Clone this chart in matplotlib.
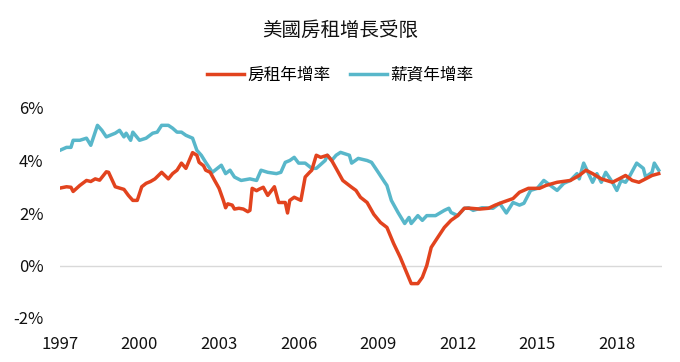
import matplotlib
matplotlib.use("Agg")
import matplotlib.pyplot as plt
import pandas as pd

plt.rcParams['font.family'] = ['Noto Sans CJK TC', 'DejaVu Sans']

# 房租年增率 (rent, YoY %)
rent_dates = [
    "1997-01", "1997-04", "1997-06", "1997-07", "1997-10", "1998-01", "1998-03", "1998-05",
    "1998-07", "1998-10", "1998-11", "1999-02", "1999-04", "1999-06", "1999-08", "1999-10",
    "1999-12", "2000-02", "2000-04", "2000-06", "2000-08", "2000-11", "2001-02", "2001-04",
    "2001-06", "2001-08", "2001-10", "2002-01", "2002-03", "2002-04", "2002-06", "2002-07",
    "2002-09", "2002-11", "2003-01", "2003-03", "2003-04", "2003-05", "2003-07", "2003-08",
    "2003-10", "2003-12", "2004-02", "2004-03", "2004-04", "2004-06", "2004-07", "2004-09",
    "2004-11", "2005-02", "2005-04", "2005-07", "2005-08", "2005-09", "2005-11", "2006-02",
    "2006-04", "2006-06", "2006-07", "2006-09", "2006-11", "2007-02", "2007-04", "2007-06",
    "2007-09", "2008-01", "2008-03", "2008-05", "2008-08", "2008-11", "2009-02", "2009-05",
    "2009-08", "2009-11", "2010-02", "2010-04", "2010-07", "2010-09", "2010-11", "2011-01",
    "2011-04", "2011-07", "2011-10", "2012-01", "2012-04", "2012-07", "2012-11", "2013-03",
    "2013-06", "2013-09", "2014-02", "2014-05", "2014-09", "2015-02", "2015-05", "2015-10",
    "2016-04", "2016-08", "2016-11", "2017-02", "2017-06", "2017-11", "2018-02", "2018-05",
    "2018-08", "2018-11", "2019-02", "2019-05", "2019-08",
]
rent = [
    2.95, 3.0, 2.98, 2.82, 3.05, 3.24, 3.2, 3.3,
    3.25, 3.57, 3.55, 3.0, 2.95, 2.9, 2.67, 2.48,
    2.48, 3.0, 3.13, 3.2, 3.3, 3.55, 3.3, 3.5,
    3.63, 3.9, 3.7, 4.3, 4.2, 3.93, 3.8, 3.63,
    3.55, 3.24, 2.94, 2.48, 2.2, 2.35, 2.3, 2.15,
    2.18, 2.15, 2.05, 2.1, 2.94, 2.85, 2.9, 2.98,
    2.67, 3.0, 2.4, 2.4, 2.0, 2.48, 2.6, 2.48,
    3.37, 3.55, 3.63, 4.2, 4.12, 4.2, 4.0, 3.7,
    3.24, 2.98, 2.86, 2.6, 2.4, 1.95, 1.64, 1.45,
    0.84, 0.31, -0.3, -0.69, -0.69, -0.45, 0.0, 0.69,
    1.07, 1.45, 1.72, 1.9, 2.18, 2.18, 2.15, 2.18,
    2.3, 2.4, 2.55, 2.79, 2.94, 2.94, 3.05, 3.17,
    3.24, 3.43, 3.63, 3.5, 3.3, 3.17, 3.3, 3.43,
    3.24, 3.17, 3.3, 3.43, 3.5,
]

# 薪資年增率 (wages, YoY %)
wage_dates = [
    "1997-01", "1997-04", "1997-06", "1997-07", "1997-10", "1998-01", "1998-03", "1998-06",
    "1998-08", "1998-10", "1999-02", "1999-04", "1999-06", "1999-07", "1999-09", "1999-10",
    "2000-01", "2000-04", "2000-07", "2000-09", "2000-11", "2001-02", "2001-04", "2001-06",
    "2001-08", "2001-10", "2002-01", "2002-03", "2002-05", "2002-07", "2002-10", "2003-02",
    "2003-04", "2003-06", "2003-08", "2003-11", "2004-03", "2004-06", "2004-08", "2004-11",
    "2005-03", "2005-05", "2005-07", "2005-09", "2005-11", "2006-01", "2006-04", "2006-07",
    "2006-09", "2007-01", "2007-02", "2007-04", "2007-06", "2007-08", "2007-12", "2008-01",
    "2008-04", "2008-08", "2008-10", "2009-01", "2009-04", "2009-05", "2009-07", "2009-10",
    "2010-01", "2010-03", "2010-04", "2010-07", "2010-09", "2010-11", "2011-03", "2011-07",
    "2011-09", "2011-10", "2012-01", "2012-04", "2012-06", "2012-08", "2012-12", "2013-05",
    "2013-08", "2013-11", "2014-02", "2014-05", "2014-07", "2014-10", "2015-01", "2015-04",
    "2015-07", "2015-10", "2016-01", "2016-04", "2016-07", "2016-08", "2016-10", "2017-02",
    "2017-04", "2017-06", "2017-08", "2017-11", "2018-01", "2018-03", "2018-05", "2018-07",
    "2018-10", "2019-01", "2019-02", "2019-05", "2019-06", "2019-08",
]
wage = [
    4.39, 4.5, 4.5, 4.77, 4.77, 4.85, 4.58, 5.34,
    5.15, 4.9, 5.04, 5.15, 4.9, 5.04, 4.77, 5.08,
    4.77, 4.85, 5.04, 5.08, 5.34, 5.34, 5.23, 5.08,
    5.08, 4.96, 4.85, 4.39, 4.2, 3.93, 3.55, 3.82,
    3.5, 3.63, 3.37, 3.24, 3.3, 3.24, 3.63, 3.55,
    3.5, 3.55, 3.93, 4.0, 4.12, 3.9, 3.9, 3.7,
    3.7, 4.0, 4.2, 4.0, 4.2, 4.31, 4.2, 3.9,
    4.08, 4.0, 3.93, 3.55, 3.17, 3.05, 2.48, 2.02,
    1.6, 1.83, 1.6, 1.9, 1.72, 1.9, 1.9, 2.1,
    2.18, 2.02, 1.9, 2.18, 2.2, 2.1, 2.2, 2.18,
    2.37, 2.0, 2.4, 2.3, 2.37, 2.86, 2.94, 3.24,
    3.05, 2.86, 3.13, 3.24, 3.5, 3.3, 3.9, 3.17,
    3.5, 3.17, 3.55, 3.17, 2.86, 3.24, 3.17, 3.43,
    3.9, 3.7, 3.37, 3.55, 3.9, 3.63,
]

tick_years = [1997, 2000, 2003, 2006, 2009, 2012, 2015, 2018]
y_ticks = [-2, 0, 2, 4, 6]

rent_x = pd.to_datetime(rent_dates)
wage_x = pd.to_datetime(wage_dates)

fig = plt.figure(figsize=(6.8, 3.62), dpi=100)
ax = fig.add_axes([60 / 680, 1 - 318 / 362, 602 / 680, 210 / 362])

ax.axhline(0, color='#d9d9d9', lw=1, zorder=1)
ax.plot(rent_x, rent, color='#e2431e', lw=2.5, label='房租年增率', zorder=3)
ax.plot(wage_x, wage, color='#58b7ca', lw=2.5, label='薪資年增率', zorder=2)

ax.set_ylim(-2, 6)
ax.set_yticks(y_ticks)
ax.set_yticklabels([f'{v}%' for v in y_ticks])
ax.set_xlim(pd.Timestamp('1997-01-01'), pd.Timestamp('2019-09-15'))
ax.set_xticks([pd.Timestamp(f'{y}-01-01') for y in tick_years])
ax.set_xticklabels([str(y) for y in tick_years])

for s in ax.spines.values():
    s.set_visible(False)
ax.tick_params(axis='both', length=0, labelsize=12, colors='#111111')
ax.tick_params(axis='y', pad=12)
ax.tick_params(axis='x', pad=13)

fig.text(0.5, 1 - 30 / 362, '美國房租增長受限', ha='center', va='center', fontsize=14,
         fontweight='medium', color='#111111')
fig.legend(loc='center', bbox_to_anchor=(0.5, 1 - 75 / 362), ncol=2, frameon=False,
           fontsize=12, handlelength=2.2, columnspacing=1.2, handletextpad=0.2)

fig.savefig('out.png', dpi=100)
